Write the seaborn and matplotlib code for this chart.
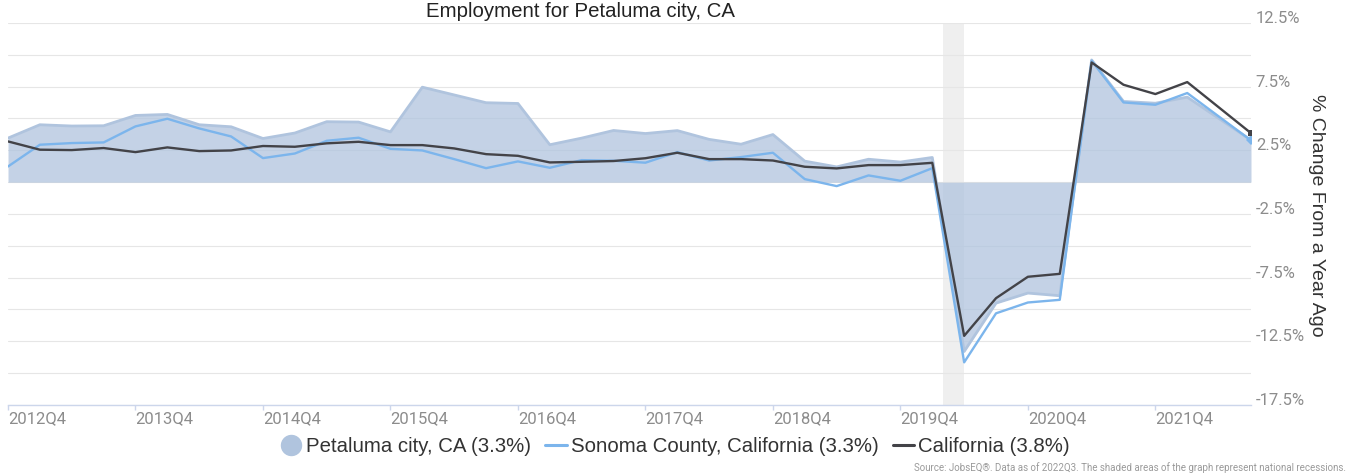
import pandas as pd
import seaborn as sns
import matplotlib.pyplot as plt
from matplotlib.lines import Line2D

# quarterly data (2022Q2 has no point in the chart)
quarters = ["2012Q4",
            "2013Q1", "2013Q2", "2013Q3", "2013Q4",
            "2014Q1", "2014Q2", "2014Q3", "2014Q4",
            "2015Q1", "2015Q2", "2015Q3", "2015Q4",
            "2016Q1", "2016Q2", "2016Q3", "2016Q4",
            "2017Q1", "2017Q2", "2017Q3", "2017Q4",
            "2018Q1", "2018Q2", "2018Q3", "2018Q4",
            "2019Q1", "2019Q2", "2019Q3", "2019Q4",
            "2020Q1", "2020Q2", "2020Q3", "2020Q4",
            "2021Q1", "2021Q2", "2021Q3", "2021Q4",
            "2022Q1", "2022Q3"]

petaluma = [3.46,
            4.51, 4.41, 4.43, 5.24,
            5.32, 4.51, 4.35, 3.43,
            3.86, 4.75, 4.72, 3.95,
            7.46, 6.85, 6.24, 6.18,
            2.94, 3.46, 4.06, 3.82,
            4.05, 3.36, 2.98, 3.74,
            1.65, 1.20, 1.80, 1.58,
            1.94, -13.3, -9.5, -8.71,
            -8.92, 9.6, 6.34, 6.2,
            6.68, 3.3]

sonoma = [1.23,
          2.94, 3.07, 3.12, 4.38,
          4.98, 4.22, 3.59, 1.89,
          2.25, 3.25, 3.49, 2.62,
          2.49, 1.81, 1.10, 1.63,
          1.13, 1.73, 1.68, 1.53,
          2.36, 1.70, 1.97, 2.31,
          0.24, -0.31, 0.53, 0.11,
          1.10, -14.15, -10.3, -9.45,
          -9.24, 9.54, 6.26, 6.08,
          7.0, 3.28]

california = [3.2,
              2.55, 2.52, 2.68, 2.36,
              2.73, 2.44, 2.49, 2.84,
              2.78, 3.05, 3.17, 2.91,
              2.91, 2.65, 2.20, 2.07,
              1.55, 1.60, 1.66, 1.88,
              2.31, 1.81, 1.81, 1.70,
              1.21, 1.08, 1.34, 1.34,
              1.52, -12.07, -9.11, -7.43,
              -7.2, 9.4, 7.65, 6.92,
              7.86, 3.85]

tick_labels = ["2012Q4", "2013Q4", "2014Q4", "2015Q4", "2016Q4",
               "2017Q4", "2018Q4", "2019Q4", "2020Q4", "2021Q4"]
y_labels = [-17.5, -12.5, -7.5, -2.5, 2.5, 7.5, 12.5]
recession = ("2020-02-01", "2020-04-01")

series_names = ["Petaluma city, CA (3.3%)",
                "Sonoma County, California (3.3%)",
                "California (3.8%)"]


def qpos(label):
    # quarter label -> position counted in quarters from 2012Q4
    p = pd.Period(label, freq="Q")
    return (p.year - 2012) * 4 + p.quarter - 4


def dpos(date):
    ts = pd.Timestamp(date)
    p = ts.to_period("Q")
    frac = (ts - p.start_time).days / ((p.end_time - p.start_time).days + 1)
    return qpos(str(p)) + frac


df = pd.DataFrame({"quarter": quarters, "petaluma": petaluma,
                   "sonoma": sonoma, "california": california})
df["x"] = [qpos(q) for q in quarters]

sns.set_style("white")
plt.rcParams["font.family"] = ["Liberation Sans", "DejaVu Sans"]

fig = plt.figure(figsize=(13.56, 4.75), dpi=100)
ax = fig.add_axes([8 / 1356, 70 / 475, 1243 / 1356, 382 / 475])

c_area = "#b0c4de"
c_blue = "#7cb5ec"
c_dark = "#434348"

ax.axvspan(dpos(recession[0]), dpos(recession[1]), color="#efefef", lw=0, zorder=0)

ax.fill_between(df["x"], 0, df["petaluma"], color=c_area, alpha=0.75, lw=0, zorder=2)
sns.lineplot(data=df, x="x", y="petaluma", ax=ax, color=c_area, lw=2, zorder=2)
last = [len(df) - 1]
sns.lineplot(data=df, x="x", y="sonoma", ax=ax, color=c_blue, lw=1.7, zorder=3,
             marker="D", markersize=5, markevery=last, markeredgewidth=0)
sns.lineplot(data=df, x="x", y="california", ax=ax, color=c_dark, lw=1.7, zorder=4,
             marker="s", markersize=5, markevery=last, markeredgewidth=0)

ax.set_xlim(0, qpos("2022Q3"))
ax.set_ylim(-17.5, 12.5)
ax.set_xlabel("")
ax.set_ylabel("")

ax.set_xticks([qpos(t) for t in tick_labels])
ax.set_xticklabels(tick_labels, ha="left", family=["Roboto", "DejaVu Sans"])
ax.tick_params(axis="x", length=3.6, width=1, color="#ccd6eb", pad=1,
               labelsize=12, labelcolor="#8c8c8c", bottom=True)

ax.yaxis.tick_right()
ax.set_yticks(y_labels)
ax.set_yticks([v + 2.5 for v in y_labels[:-1]], minor=True)
ax.set_yticklabels([f"{v}%" for v in y_labels], family=["Roboto", "DejaVu Sans"])
plt.setp(ax.get_yticklabels(), va="baseline")
ax.tick_params(axis="y", which="both", length=0, pad=3.5,
               labelsize=12, labelcolor="#8c8c8c")
ax.grid(axis="y", which="both", color="#e6e6e6", lw=0.8)
ax.grid(axis="x", visible=False)
ax.set_axisbelow(True)

for s in ["top", "left", "right"]:
    ax.spines[s].set_visible(False)
ax.spines["bottom"].set_color("#ccd6eb")
ax.spines["bottom"].set_linewidth(1)
ax.spines["bottom"].set_zorder(5)

fig.text(580 / 1356, 1 - 17 / 475, "Employment for Petaluma city, CA",
         ha="center", va="baseline", fontsize=14.7, color="#222222")
fig.text(1316 / 1356, 1 - 215 / 475, "% Change From a Year Ago",
         rotation=-90, ha="center", va="center", fontsize=14, color="#333333")

handles = [Line2D([], [], ls="none", marker="o", ms=14.4, color=c_area),
           Line2D([], [], color=c_blue, lw=2.2),
           Line2D([], [], color=c_dark, lw=2.2)]
fig.legend(handles, series_names, loc="center", bbox_to_anchor=(0.498, 1 - 447 / 475),
           ncol=3, frameon=False, fontsize=14.7, handlelength=1.05,
           handletextpad=0.2, columnspacing=0.7, labelcolor="#333333")

fig.text(1346 / 1356, 1 - 468 / 475,
         "Source: JobsEQ\u00ae. Data as of 2022Q3. The shaded areas of the graph represent national recessions.",
         ha="right", va="center", fontsize=7, color="#9a9a9a",
         family=["Roboto", "DejaVu Sans"])

fig.savefig("out.png", dpi=100)
